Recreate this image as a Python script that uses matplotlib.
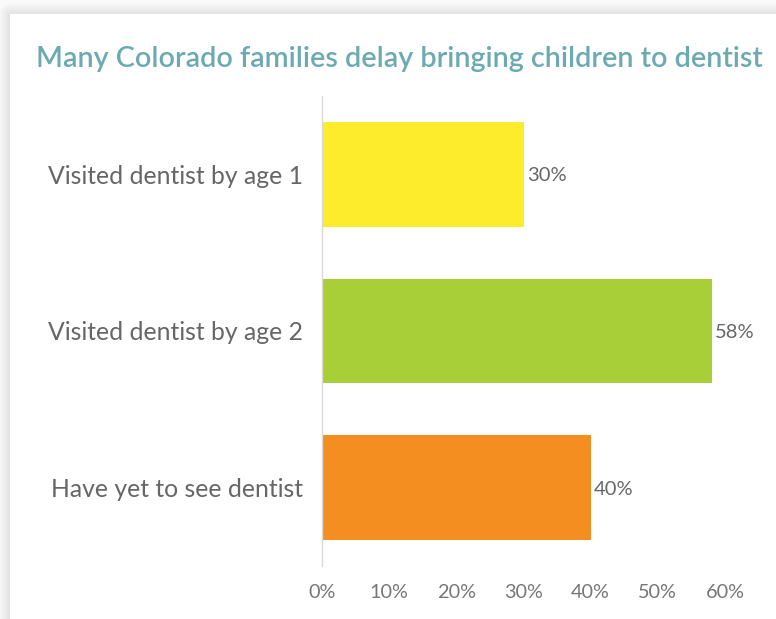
import numpy as np
import matplotlib
matplotlib.use("Agg")
import matplotlib.pyplot as plt
from matplotlib.ticker import FuncFormatter

categories = ["Visited dentist by age 1", "Visited dentist by age 2", "Have yet to see dentist"]
values = [0.30, 0.58, 0.40]
colors = ["#FCEC2C", "#A9CF38", "#F58E21"]
value_labels = ["30%", "58%", "40%"]
title = "Many Colorado families delay bringing children to dentist"
xticks = [0, 0.1, 0.2, 0.3, 0.4, 0.5, 0.6]

W, H = 776, 619
fig = plt.figure(figsize=(W / 100, H / 100), dpi=100)
fig.patch.set_facecolor("white")

# background shadow around card
bg = fig.add_axes([0, 0, 1, 1])
bg.set_axis_off()
yy, xx = np.mgrid[0:H, 0:W]
cx, cy = 10, 14
dx = np.clip(cx - xx, 0, None)
dy = np.clip(cy - yy, 0, None)
d = np.sqrt(dx ** 2 + dy ** 2)
inside = (xx >= cx) & (yy >= cy)
shade = np.where(inside, 1.0, 0.88 + 0.10 * np.clip(d / 12, 0, 1))
bg.imshow(shade, cmap="gray", vmin=0, vmax=1, extent=[0, W, H, 0], aspect="auto", interpolation="bilinear")
bg.set_xlim(0, W)
bg.set_ylim(H, 0)

fig.text(36 / W, 1 - 59 / H, title, color="#6BAAB1", fontsize=20.7, family="Lato",
         fontweight="semibold", va="center", ha="left")

ax = fig.add_axes([322 / W, 1 - 566 / H, (725 - 322) / W, (566 - 96) / H])
ax.set_facecolor("none")
y = np.arange(len(categories))
ax.barh(y, values, height=0.67, color=colors)
ax.set_ylim(2.5, -0.5)
ax.set_xlim(0, 0.6)
for yi, v, lab in zip(y, values, value_labels):
    ax.text(v + 0.005, yi + 0.01, lab, va="center", ha="left", color="#666666", fontsize=14.5, family="Lato")
ax.set_yticks(y)
ax.set_yticklabels(categories, color="#666666", fontsize=17.8, family="Lato")
ax.set_xticks(xticks)
ax.xaxis.set_major_formatter(FuncFormatter(lambda v, p: f"{v*100:.0f}%"))
for t in ax.get_xticklabels():
    t.set_family("Lato")
ax.tick_params(axis="x", length=0, labelsize=14.3, labelcolor="#777777", pad=13)
ax.tick_params(axis="y", length=0, pad=14)
for s in ["top", "right", "bottom"]:
    ax.spines[s].set_visible(False)
ax.spines["left"].set_color("#d9d9d9")
ax.spines["left"].set_linewidth(1)

fig.savefig("out.png", dpi=100)
